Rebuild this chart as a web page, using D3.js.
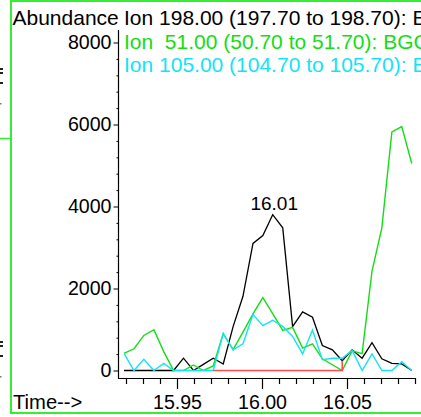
<!DOCTYPE html>
<html>
<head>
<meta charset="utf-8">
<script src="https://cdn.jsdelivr.net/npm/d3@7"></script>
<style>
html,body{margin:0;padding:0;overflow:hidden;background:#fff;}
svg{display:block;font-family:"Liberation Sans",Arial,sans-serif;}
</style>
</head>
<body>
<svg id="chart" width="421" height="417"></svg>
<script>
// ---- data ----
const times = [15.9188,15.9247,15.9305,15.9364,15.9422,15.9480,15.9538,15.9597,15.9655,15.9713,
               15.9772,15.9830,15.9888,15.9947,16.0005,16.0063,16.0122,16.0180,16.0239,16.0297,
               16.0355,16.0414,16.0472,16.0530,16.0589,16.0647,16.0705,16.0764,16.0822,16.0881];
const ion198 = [0,0,0,0,0,0,300,0,150,300,160,1070,1810,3100,3290,3800,3480,1070,1430,1300,
                610,505,240,505,300,680,285,175,160,0];
const ion51  = [420,530,855,995,460,0,0,135,0,110,900,510,935,1380,1780,1385,980,1050,545,650,
                285,140,0,480,410,2420,3480,5820,5950,5050];
const ion105 = [420,0,275,0,175,0,0,0,0,0,900,505,650,1365,1095,1225,1075,830,405,990,
                265,300,300,490,0,405,0,0,215,0];
const baseTimes  = [15.9713,16.0472,16.0472];
const baseValues = [0,0,240];
const seriesNames = ["Ion 198.00 (197.70 to 198.70): E",
                     "Ion  51.00 (50.70 to 51.70): BGC",
                     "Ion 105.00 (104.70 to 105.70): E"];
const yMajorTicks = [0,2000,4000,6000,8000];
const yMinorTicks = [400,800,1200,1600,2400,2800,3200,3600,4400,4800,5200,5600,6400,6800,7200,7600];
const xMajorTicks = [15.95,16.00,16.05];
const xMinorTicks = [15.92,15.93,15.94,15.96,15.97,15.98,15.99,16.01,16.02,16.03,16.04,16.06,16.07,16.08,16.09];

// ---- styles ----
const colBlack = "#000000", colGreen = "#14dd14", colCyan = "#12e4f6", colRed = "#ff4b4b", colFrame = "#33ee33";
const FONT = 21, TICKFONT = 19.6, PEAKFONT = 19;

const svg = d3.select("#chart");

// frame / panel borders
svg.append("line").attr("x1",11).attr("x2",11).attr("y1",0).attr("y2",414).attr("stroke",colFrame).attr("stroke-width",2);
svg.append("line").attr("x1",11).attr("x2",421).attr("y1",1).attr("y2",1).attr("stroke",colFrame).attr("stroke-width",2);
svg.append("line").attr("x1",11).attr("x2",421).attr("y1",413).attr("y2",413).attr("stroke",colFrame).attr("stroke-width",2);
svg.append("line").attr("x1",0).attr("x2",10).attr("y1",138.5).attr("y2",138.5).attr("stroke",colFrame).attr("stroke-width",1.5);
// fragments of neighbouring panel at far left
[[68,2],[72,2],[82,2],[341,2],[345,2],[355,2]].forEach(d=>{
  svg.append("rect").attr("x",0).attr("y",d[0]).attr("width",3).attr("height",d[1]).attr("fill","#222");
});
[[103],[376]].forEach(d=>{
  svg.append("rect").attr("x",0).attr("y",d[0]).attr("width",1.5).attr("height",1.5).attr("fill","#777");
});

// scales
const x = d3.scaleLinear().domain([15.92,16.09]).range([126,415]);
const y = d3.scaleLinear().domain([0,8000]).range([370.5,42.5]);
const axisY = 378;

// y axis
svg.append("line").attr("x1",118.5).attr("x2",118.5).attr("y1",30).attr("y2",axisY+0.5).attr("stroke","#000").attr("stroke-width",1.2);
const gy = svg.append("g").attr("transform","translate(118.5,0)")
  .call(d3.axisLeft(y).tickValues(yMajorTicks).tickSize(5).tickPadding(2).tickFormat(d3.format("d")));
gy.select(".domain").remove();
gy.selectAll("text").attr("font-size",TICKFONT).attr("font-family","Liberation Sans, Arial, sans-serif").attr("fill","#000");
gy.selectAll("line").attr("stroke","#000");
const gym = svg.append("g").attr("transform","translate(118.5,0)")
  .call(d3.axisLeft(y).tickValues(yMinorTicks).tickSize(2).tickFormat(""));
gym.select(".domain").remove();
gym.selectAll("line").attr("stroke","#000");

// x axis
svg.append("line").attr("x1",118).attr("x2",415).attr("y1",axisY+0.5).attr("y2",axisY+0.5).attr("stroke","#000").attr("stroke-width",1.2);
const gx = svg.append("g").attr("transform",`translate(0,${axisY})`)
  .call(d3.axisBottom(x).tickValues(xMajorTicks).tickSize(11).tickFormat(d3.format(".2f")));
gx.select(".domain").remove();
gx.selectAll("line").attr("stroke","#000").attr("stroke-width",1.2);
gx.selectAll("text").attr("font-size",TICKFONT).attr("font-family","Liberation Sans, Arial, sans-serif").attr("fill","#000").attr("y",31).attr("dy",0);
const gxm = svg.append("g").attr("transform",`translate(0,${axisY})`)
  .call(d3.axisBottom(x).tickValues(xMinorTicks).tickSize(6).tickFormat(""));
gxm.select(".domain").remove();
gxm.selectAll("line").attr("stroke","#000").attr("stroke-width",1.2);

// titles
svg.append("text").attr("x",12.5).attr("y",25).attr("font-size",FONT).text("Abundance");
svg.append("text").attr("x",13).attr("y",409).attr("font-size",TICKFONT+0.6).text("Time-->");

// legend
const legendCols = [colBlack,colGreen,colCyan];
seriesNames.forEach((n,i)=>{
  svg.append("text").attr("x",124).attr("y",25+i*23.5).attr("font-size",FONT)
    .attr("fill",legendCols[i]).attr("xml:space","preserve").style("white-space","pre").text(n);
});

// lines
const line = d3.line().x(d=>x(d[0])).y(d=>y(d[1]));
function draw(vals,col,w){
  svg.append("path").datum(times.map((t,i)=>[t,vals[i]]))
    .attr("d",line).attr("fill","none").attr("stroke",col).attr("stroke-width",w).attr("stroke-linejoin","miter");
}
draw(ion198,colBlack,1.3);
draw(ion51,colGreen,1.4);
draw(ion105,colCyan,1.4);
svg.append("path").datum(baseTimes.map((t,i)=>[t,baseValues[i]]))
  .attr("d",line).attr("fill","none").attr("stroke",colRed).attr("stroke-width",1.6);

// peak label
const imax = d3.maxIndex(ion198);
svg.append("text").attr("x",x(times[imax])+1.5).attr("y",y(ion198[imax])-5)
  .attr("text-anchor","middle").attr("font-size",PEAKFONT).text(d3.format(".2f")(times[imax]));
</script>
</body>
</html>
